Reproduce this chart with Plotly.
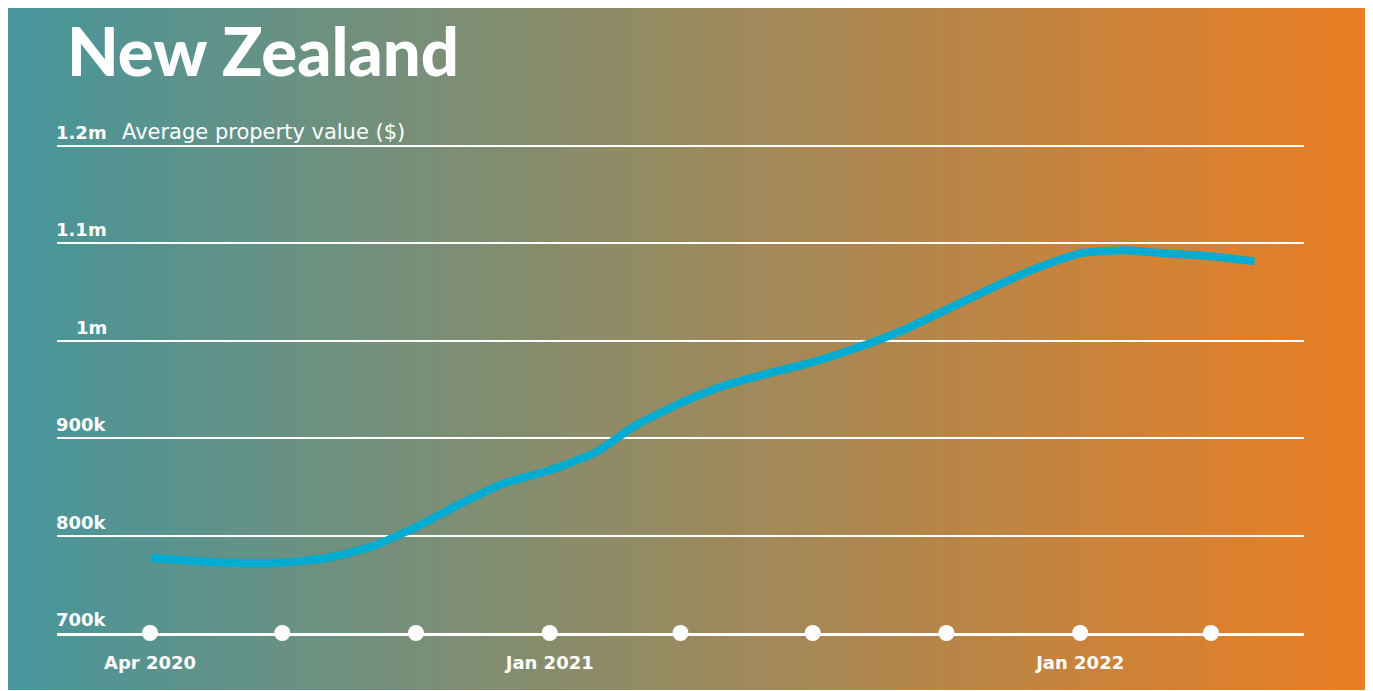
import plotly.graph_objects as go

# monthly average property value, NZ ($)
months = ["2020-04-02", "2020-05-01", "2020-06-01", "2020-07-01", "2020-08-01", "2020-09-01",
          "2020-10-01", "2020-11-01", "2020-12-01", "2021-01-01", "2021-02-01", "2021-03-01",
          "2021-04-01", "2021-05-01", "2021-06-01", "2021-07-01", "2021-08-01", "2021-09-01",
          "2021-10-01", "2021-11-01", "2021-12-01", "2022-01-01", "2022-02-01", "2022-03-01",
          "2022-04-01", "2022-05-01"]
values = [777000, 774000, 772000, 772300, 777000, 789000,
          808700, 833000, 854000, 867000, 885000, 913000,
          936000, 954000, 966700, 978000, 993000, 1010800,
          1032000, 1054000, 1074000, 1089700, 1092800, 1089700,
          1086700, 1081500]

quarters = ["2020-04-01", "2020-07-01", "2020-10-01", "2021-01-01", "2021-04-01",
            "2021-07-01", "2021-10-01", "2022-01-01", "2022-04-01"]
xtick_vals = ["2020-04-01", "2021-01-01", "2022-01-01"]
xtick_text = ["Apr 2020", "Jan 2021", "Jan 2022"]
ytick_vals = [700000, 800000, 900000, 1000000, 1100000, 1200000]
ytick_text = ["700k", "800k", "900k", "1m", "1.1m", "1.2m"]

# page is offset by the body margin, so the figure is a bit smaller
OFF = 8
W, H = 1373 - OFF, 691 - OFF
FONT = "DejaVu Sans"


def px(x):
    return (x - OFF) / W


def py(y):
    return 1 - (y - OFF) / H


fig = go.Figure()

fig.add_trace(go.Scatter(
    x=months, y=values, mode="lines",
    line=dict(color="#00acd1", width=8, shape="spline", smoothing=0.5),
    hoverinfo="skip", showlegend=False,
))
fig.add_trace(go.Scatter(
    x=quarters, y=[700000] * len(quarters), mode="markers",
    marker=dict(color="white", size=16),
    cliponaxis=False, hoverinfo="skip", showlegend=False,
))

# gradient background made of thin stripes
left = (71, 150, 156)
right = (234, 126, 35)
n = 240
x0, x1 = max(px(7), 0), px(1368)
shapes = []
for i in range(n):
    t = i / (n - 1)
    c = tuple(round(left[k] + (right[k] - left[k]) * t) for k in range(3))
    a = x0 + (x1 - x0) * i / n
    b = x0 + (x1 - x0) * (i + 1.6) / n
    shapes.append(dict(type="rect", xref="paper", yref="paper", layer="below",
                       x0=a, x1=min(b, x1), y0=py(690), y1=1,
                       fillcolor="rgb(%d,%d,%d)" % c, line=dict(width=0)))

annotations = [dict(text="New Zealand", xref="paper", yref="paper",
                    x=px(65), y=py(50), xanchor="left", yanchor="middle",
                    showarrow=False, font=dict(family="Lato", size=67, color="white", weight=900))]
for v, t in zip(ytick_vals, ytick_text):
    annotations.append(dict(text=t, xref="paper", yref="y", x=px(109), y=v,
                            xanchor="right", yanchor="bottom", yshift=1, showarrow=False,
                            font=dict(family=FONT, size=18, color="white", weight="bold")))
annotations.append(dict(text="Average property value ($)", xref="paper", yref="y",
                        x=px(120), y=1200000, xanchor="left", yanchor="bottom", yshift=0,
                        showarrow=False, font=dict(family=FONT, size=21, color="white")))

fig.update_layout(
    width=W, height=H,
    margin=dict(l=0, r=0, t=0, b=0),
    paper_bgcolor="white",
    plot_bgcolor="rgba(0,0,0,0)",
    shapes=shapes,
    annotations=annotations,
    xaxis=dict(
        type="date", domain=[px(57), px(1304)],
        range=["2020-01-28", "2022-06-04"],
        showgrid=False, zeroline=False,
        showline=True, linecolor="white", linewidth=3,
        tickvals=xtick_vals, ticktext=xtick_text, ticks="",
        ticklabelstandoff=11,
        tickfont=dict(family=FONT, size=18, color="white", weight="bold"),
    ),
    yaxis=dict(
        domain=[py(633), py(144)],
        range=[700000, 1202000],
        tickvals=ytick_vals, showticklabels=False, ticks="",
        showgrid=True, gridcolor="white", gridwidth=2,
        zeroline=False, showline=False,
    ),
)

fig.write_html("out.html")
